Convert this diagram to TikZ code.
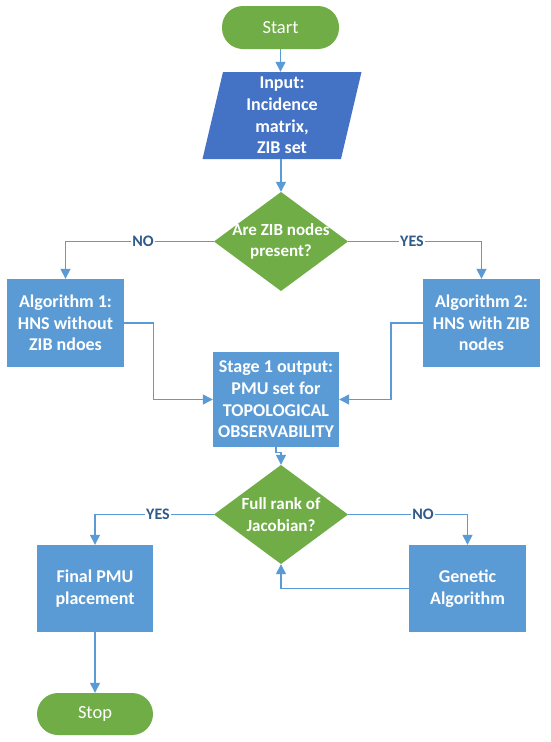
\documentclass[tikz,border=0pt]{standalone}
\usepackage{fontspec}
\setmainfont{Carlito}
\usetikzlibrary{arrows.meta}
\definecolor{fgreen}{HTML}{70AD47}
\definecolor{fblue}{HTML}{5B9BD5}
\definecolor{fdblue}{HTML}{4472C4}
\definecolor{flabel}{HTML}{2F5A8A}
\tikzset{
  base/.style={inner sep=0pt, align=center, text=white},
  boxtxt/.style={font=\fontsize{18}{21.7}\selectfont\bfseries},
  term/.style={base, fill=fgreen, rounded corners=21pt, font=\fontsize{18.5}{21.7}\selectfont},
  procbox/.style={base, boxtxt, fill=fblue, minimum width=117pt, minimum height=88pt},
  decision/.style={base, font=\fontsize{17}{21.7}\selectfont\bfseries, minimum width=134pt, minimum height=99pt,
    path picture={\fill[fgreen] (path picture bounding box.north) -- (path picture bounding box.east)
      -- (path picture bounding box.south) -- (path picture bounding box.west) -- cycle;}},
  iobox/.style={base, boxtxt, minimum width=159pt, minimum height=87pt,
    path picture={\fill[fdblue] ([xshift=20.5pt]path picture bounding box.north west) -- (path picture bounding box.north east)
      -- ([xshift=-20.5pt]path picture bounding box.south east) -- (path picture bounding box.south west) -- cycle;}},
  conn/.style={draw=fblue, line width=1.4pt, -{Triangle[width=10pt,length=10pt]}},
  lbl/.style={font=\fontsize{16}{18}\selectfont\bfseries, text=flabel, fill=white, inner sep=1pt}
}
\begin{document}
\begin{tikzpicture}[x=1pt,y=-1pt]
\useasboundingbox[fill=white] (0,0) rectangle (550,742);
\node[term, minimum width=117pt, minimum height=43pt] (start) at (280.5,27.5) {Start};
\node[iobox] (input) at (282,115.5) {Input:\\Incidence\\matrix,\\ZIB set};
\node[decision] (dia1) at (281,241.5) {Are ZIB nodes\\present?};
\node[procbox] (box1) at (65.5,323) {Algorithm 1:\\HNS without\\ZIB ndoes};
\node[procbox] (box2) at (481.5,323) {Algorithm 2:\\HNS with ZIB\\nodes};
\node[procbox, minimum width=126pt, minimum height=95pt] (stage) at (276,399.5) {Stage 1 output:\\PMU set for\\TOPOLOGICAL\\OBSERVABILITY};
\node[decision] (dia2) at (281,514.5) {Full rank of\\Jacobian?};
\node[procbox, minimum width=116pt, minimum height=87pt] (final) at (95,588.5) {Final PMU\\placement};
\node[procbox, minimum height=87pt] (gen) at (467.5,588.5) {Genetic\\Algorithm};
\node[term, minimum width=116pt, minimum height=42pt] (stop) at (95,714) {Stop};

\draw[conn] (start.south) -- (start.south |- input.north);
\draw[conn] (input.south -| dia1.north) -- (dia1.north);
\draw[conn] (dia1.west) -| (box1.north);
\draw[conn] (dia1.east) -| (box2.north);
\node[lbl] (no1) at (143,241.5) {NO};
\node[lbl] (yes1) at (412,241.5) {YES};
\draw[conn] (box1.east) -- ++(29,0) |- (stage.west);
\draw[conn] (box2.west) -- ++(-32,0) |- (stage.east);
\draw[conn] (stage.south) -- ++(0,5) -| (dia2.north);
\draw[conn] (dia2.west) -| (final.north);
\draw[conn] (dia2.east) -| (gen.north);
\node[lbl] (yes2) at (158,514.5) {YES};
\node[lbl] (no2) at (423,514.5) {NO};
\draw[conn] (gen.west) -| (dia2.south);
\draw[conn] (final.south) -- (stop.north);
\end{tikzpicture}
\end{document}
